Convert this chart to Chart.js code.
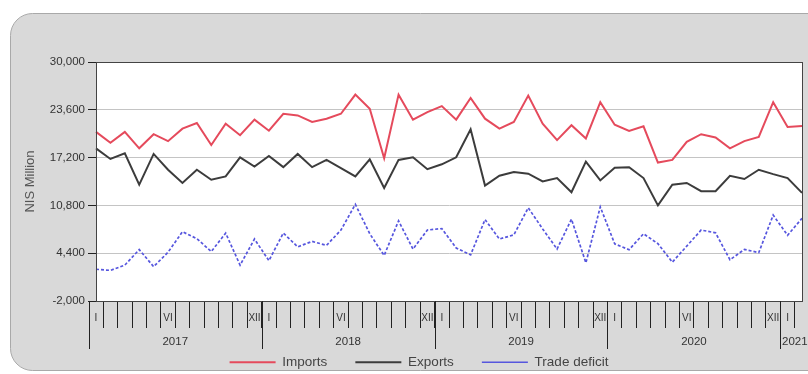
<!DOCTYPE html>
<html>
<head>
<meta charset="utf-8">
<script src="https://cdn.jsdelivr.net/npm/chart.js@4/dist/chart.umd.min.js"></script>
<style>
  html, body { margin: 0; padding: 0; background: #fff; }
  #wrap { width: 808px; height: 374px; }
</style>
</head>
<body>
<div id="wrap"><canvas id="myChart" width="808" height="374"></canvas></div>
<script>
// months Jan 2017 .. Feb 2021
const years = ['2017', '2018', '2019', '2020', '2021'];
const months = ['I', 'II', 'III', 'IV', 'V', 'VI', 'VII', 'VIII', 'IX', 'X', 'XI', 'XII'];
const shownMonths = ['I', 'VI', 'XII'];
const yTicks = [-2000, 4400, 10800, 17200, 23600, 30000];

const categories = [];
years.forEach(function (y) {
  months.forEach(function (m) {
    if (categories.length < 50) categories.push(m + ' ' + y);
  });
});

const imports = [20640, 19190, 20640, 18440, 20330, 19400, 21080, 21830, 18880, 21750, 20200, 22280,
  20800, 23070, 22850, 21970, 22410, 23070, 25630, 23730, 17110, 25630, 22280, 23290,
  24100, 22280, 25190, 22410, 21080, 21970, 25500, 21750, 19540, 21530, 19760, 24620,
  21600, 20770, 21390, 16540, 16890, 19320, 20330, 19890, 18440, 19410, 19980, 24620,
  21300, 21440];
const exports = [18440, 17020, 17770, 13580, 17690, 15570, 13800, 15570, 14240, 14680, 17240, 16010,
  17420, 15920, 17690, 15920, 16890, 15790, 14680, 16980, 13140, 16890, 17240, 15650,
  16300, 17240, 21000, 13450, 14770, 15260, 15040, 14020, 14460, 12560, 16670, 14150,
  15850, 15920, 14460, 10800, 13580, 13800, 12700, 12700, 14770, 14330, 15570, 14990,
  14460, 12480];
const deficit = [2250, 2100, 2800, 4880, 2600, 4530, 7270, 6350, 4620, 7090, 2800, 6300,
  3400, 7100, 5250, 5980, 5450, 7500, 10940, 7000, 4100, 8730, 4950, 7500,
  7700, 5100, 4180, 8900, 6300, 6850, 10480, 7650, 4950, 8950, 3110, 10600,
  5650, 4870, 7000, 5680, 3200, 5350, 7500, 7130, 3520, 4900, 4480, 9500,
  6800, 9070];

const font = 'Liberation Sans, Arial, sans-serif';

// grey card, white plot, frame, year row
const cardPlugin = {
  id: 'card',
  beforeDraw(chart) {
    const ctx = chart.ctx;
    const a = chart.chartArea;
    ctx.save();
    ctx.beginPath();
    ctx.roundRect(10.5, 13.5, 820, 357, 22);
    ctx.fillStyle = '#d9d9d9';
    ctx.fill();
    ctx.strokeStyle = '#a9a9a9';
    ctx.lineWidth = 1;
    ctx.stroke();
    ctx.fillStyle = '#fff';
    ctx.fillRect(a.left, a.top, a.right - a.left, a.bottom - a.top);
    ctx.restore();
  },
  afterDraw(chart) {
    const ctx = chart.ctx;
    const a = chart.chartArea;
    const x = chart.scales.x;
    ctx.save();
    ctx.strokeStyle = '#444';
    ctx.lineWidth = 1;
    ctx.strokeRect(a.left + 0.5, a.top + 0.5, a.right - a.left, a.bottom - a.top);

    const step = x.getPixelForValue(1) - x.getPixelForValue(0);
    const bounds = [];
    for (let i = 0; i < categories.length; i++) {
      if (categories[i].indexOf('I ') === 0) bounds.push(i);
    }
    bounds.push(categories.length);
    ctx.strokeStyle = '#222';
    ctx.fillStyle = '#333';
    ctx.font = '11.5px ' + font;
    ctx.textAlign = 'center';
    ctx.textBaseline = 'middle';
    for (let k = 0; k < bounds.length; k++) {
      const px = Math.round(x.getPixelForValue(bounds[k]) - step / 2) + 0.5;
      ctx.beginPath();
      ctx.moveTo(px, a.bottom);
      ctx.lineTo(px, 349);
      ctx.stroke();
      if (k < bounds.length - 1) {
        const x0 = x.getPixelForValue(bounds[k]) - step / 2;
        const x1 = x.getPixelForValue(bounds[k + 1]) - step / 2;
        ctx.fillText(years[k], (x0 + x1) / 2, 342);
      }
    }
    ctx.restore();
  }
};

var ctx = document.getElementById('myChart').getContext('2d');

var chart = new Chart(ctx, {
  type: 'line',
  data: {
    labels: categories,
    datasets: [
      {
        label: 'Imports',
        data: imports,
        borderColor: '#e54a5c',
        backgroundColor: '#e54a5c',
        borderWidth: 2,
        pointRadius: 0,
        tension: 0
      },
      {
        label: 'Exports',
        data: exports,
        borderColor: '#3c3c3c',
        backgroundColor: '#3c3c3c',
        borderWidth: 2,
        pointRadius: 0,
        tension: 0
      },
      {
        label: 'Trade deficit',
        data: deficit,
        borderColor: '#5656de',
        backgroundColor: '#5656de',
        borderWidth: 1.7,
        borderDash: [3, 2],
        pointRadius: 0,
        tension: 0
      }
    ]
  },
  plugins: [cardPlugin],
  options: {
    responsive: false,
    animation: false,
    layout: { padding: { top: 62, left: 36, right: 6, bottom: -5 } },
    plugins: {
      tooltip: { enabled: false },
      legend: {
        position: 'bottom',
        labels: {
          usePointStyle: true,
          pointStyle: 'line',
          pointStyleWidth: 46,
          padding: 28,
          color: '#444',
          font: { family: font, size: 13.5 }
        }
      }
    },
    scales: {
      x: {
        grid: {
          display: true,
          drawOnChartArea: false,
          offset: true,
          tickLength: 27,
          tickColor: '#222'
        },
        border: { color: '#000', width: 1 },
        ticks: {
          autoSkip: false,
          maxRotation: 0,
          padding: -16,
          color: '#333',
          font: { family: font, size: 10 },
          callback: function (v) {
            const m = categories[v].split(' ')[0];
            return shownMonths.indexOf(m) >= 0 ? m : '';
          }
        },
        afterFit: function (s) { s.height = 26.5; }
      },
      y: {
        min: -2000,
        max: 30000,
        afterBuildTicks: function (s) { s.ticks = yTicks.map(function (v) { return { value: v }; }); },
        grid: { color: '#c4c4c4', tickColor: '#222', tickLength: 8 },
        border: { color: '#000', width: 1 },
        ticks: {
          padding: 3,
          color: '#333',
          font: { family: font, size: 11.5 },
          callback: function (v) { return v.toLocaleString('en-US'); }
        },
        title: {
          display: true,
          text: 'NIS Million',
          color: '#555',
          font: { family: font, size: 13 },
          padding: { top: -13.8, bottom: 0 }
        },
        afterFit: function (s) { s.width = 60; }
      }
    }
  }
});
</script>
</body>
</html>
